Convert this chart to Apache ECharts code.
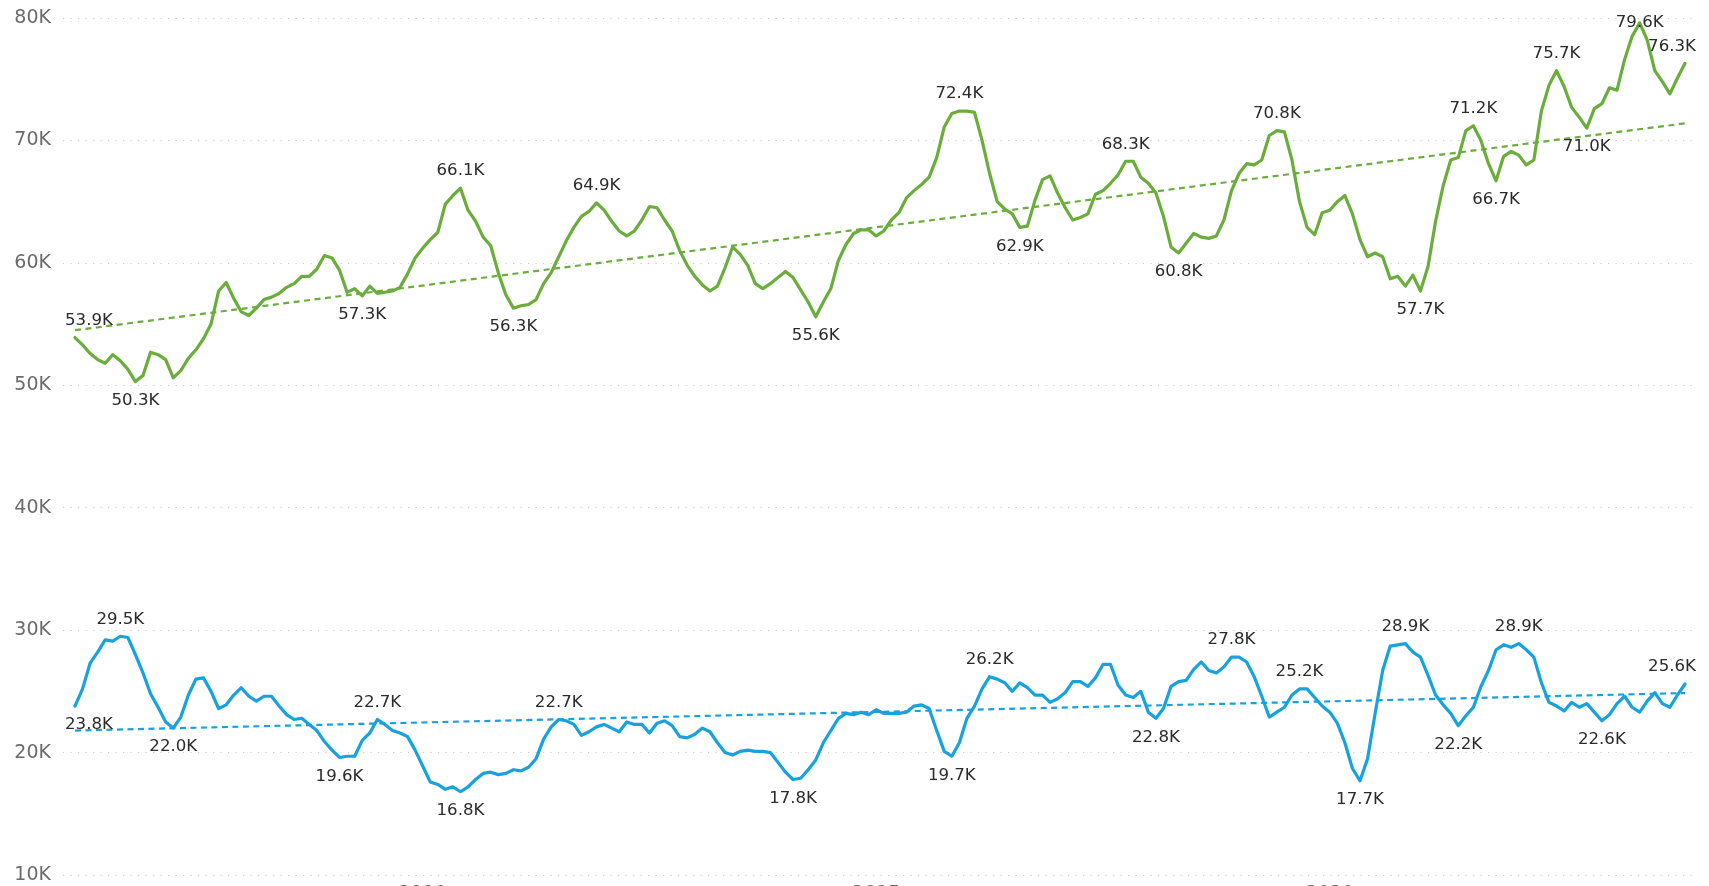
<!DOCTYPE html>
<html>
<head>
<meta charset="utf-8">
<script src="https://cdn.jsdelivr.net/npm/echarts@6/dist/echarts.min.js"></script>
<style>
  html, body { margin: 0; padding: 0; background: #ffffff; }
  #chart { width: 1709px; height: 886px; }
</style>
</head>
<body>
<div id="chart"></div>
<script>
// Monthly values from March 2006 to December 2023, in thousands.
const START_YEAR = 2006;
const START_MONTH = 3;

const greenValues = [
  53.9, 53.3, 52.6, 52.1, 51.8, 52.5, 52.0, 51.3, 50.3, 50.8,
  52.7, 52.5, 52.1, 50.6, 51.2, 52.2, 52.9, 53.8, 55.0, 57.7,
  58.4, 57.1, 56.0, 55.7, 56.3, 57.0, 57.2, 57.5, 58.0, 58.3,
  58.9, 58.9, 59.5, 60.6, 60.4, 59.4, 57.6, 57.9, 57.3, 58.1,
  57.5, 57.6, 57.7, 58.0, 59.1, 60.4, 61.2, 61.9, 62.5, 64.8,
  65.5, 66.1, 64.3, 63.4, 62.1, 61.4, 59.2, 57.4, 56.3, 56.5,
  56.6, 57.0, 58.3, 59.2, 60.5, 61.8, 62.9, 63.8, 64.2, 64.9,
  64.3, 63.4, 62.6, 62.2, 62.6, 63.5, 64.6, 64.5, 63.5, 62.6,
  61.0, 59.8, 58.9, 58.2, 57.7, 58.1, 59.6, 61.3, 60.7, 59.8,
  58.3, 57.9, 58.3, 58.8, 59.3, 58.8, 57.8, 56.8, 55.6, 56.8,
  57.9, 60.2, 61.5, 62.4, 62.7, 62.7, 62.2, 62.6, 63.5, 64.1,
  65.3, 65.9, 66.4, 67.0, 68.6, 71.1, 72.2, 72.4, 72.4, 72.3,
  70.0, 67.3, 65.0, 64.4, 64.0, 62.9, 63.0, 65.1, 66.8, 67.1,
  65.7, 64.5, 63.5, 63.7, 64.0, 65.6, 65.9, 66.5, 67.2, 68.3,
  68.3, 67.0, 66.5, 65.7, 63.8, 61.3, 60.8, 61.6, 62.4, 62.1,
  62.0, 62.2, 63.5, 65.9, 67.3, 68.1, 68.0, 68.4, 70.4, 70.8,
  70.7, 68.4, 65.0, 62.9, 62.3, 64.1, 64.3, 65.0, 65.5, 64.0,
  61.9, 60.5, 60.8, 60.5, 58.7, 58.9, 58.1, 59.0, 57.7, 59.7,
  63.4, 66.3, 68.4, 68.6, 70.8, 71.2, 70.0, 68.1, 66.7, 68.7,
  69.1, 68.8, 68.0, 68.4, 72.4, 74.5, 75.7, 74.4, 72.7, 71.9,
  71.0, 72.6, 73.0, 74.3, 74.1, 76.6, 78.5, 79.6, 78.2, 75.7,
  74.8, 73.8, 75.1, 76.3
];

const blueValues = [
  23.8, 25.2, 27.3, 28.2, 29.2, 29.1, 29.5, 29.4, 28.0, 26.5,
  24.8, 23.7, 22.5, 22.0, 22.9, 24.7, 26.0, 26.1, 25.0, 23.6,
  23.9, 24.7, 25.3, 24.6, 24.2, 24.6, 24.6, 23.8, 23.1, 22.7,
  22.8, 22.3, 21.8, 20.9, 20.2, 19.6, 19.7, 19.7, 21.0, 21.6,
  22.7, 22.3, 21.8, 21.6, 21.3, 20.2, 18.9, 17.6, 17.4, 17.0,
  17.2, 16.8, 17.2, 17.8, 18.3, 18.4, 18.2, 18.3, 18.6, 18.5,
  18.8, 19.5, 21.1, 22.1, 22.7, 22.6, 22.3, 21.4, 21.7, 22.1,
  22.3, 22.0, 21.7, 22.5, 22.3, 22.3, 21.6, 22.4, 22.6, 22.2,
  21.3, 21.2, 21.5, 22.0, 21.7, 20.8, 20.0, 19.8, 20.1, 20.2,
  20.1, 20.1, 20.0, 19.2, 18.4, 17.8, 17.9, 18.6, 19.4, 20.8,
  21.8, 22.8, 23.2, 23.1, 23.3, 23.1, 23.5, 23.2, 23.2, 23.2,
  23.3, 23.8, 23.9, 23.6, 21.8, 20.1, 19.7, 20.8, 22.8, 23.8,
  25.2, 26.2, 26.0, 25.7, 25.0, 25.7, 25.3, 24.7, 24.7, 24.1,
  24.4, 24.9, 25.8, 25.8, 25.4, 26.1, 27.2, 27.2, 25.5, 24.7,
  24.5, 25.0, 23.3, 22.8, 23.6, 25.4, 25.8, 25.9, 26.8, 27.4,
  26.7, 26.5, 27.0, 27.8, 27.8, 27.4, 26.2, 24.6, 22.9, 23.3,
  23.7, 24.7, 25.2, 25.2, 24.5, 23.8, 23.3, 22.4, 20.8, 18.7,
  17.7, 19.5, 23.2, 26.7, 28.7, 28.8, 28.9, 28.2, 27.8, 26.3,
  24.7, 23.9, 23.2, 22.2, 23.0, 23.7, 25.4, 26.7, 28.4, 28.8,
  28.6, 28.9, 28.4, 27.8, 25.7, 24.1, 23.8, 23.4, 24.1, 23.7,
  24.0, 23.3, 22.6, 23.1, 24.0, 24.6, 23.7, 23.3, 24.2, 24.9,
  24.0, 23.7, 24.7, 25.6
];

// Year marks on the time axis and the value axis range (thousands).
const yearTicks = [2010, 2015, 2020];
const yTicks = [10, 20, 30, 40, 50, 60, 70, 80];

// Points that carry a value label.
const greenLabelIdx = [0, 8, 38, 51, 58, 69, 98, 117, 125, 139, 146, 159, 178, 185, 188, 196, 200, 207, 213];
const blueLabelIdx  = [0, 6, 13, 35, 40, 51, 64, 95, 116, 121, 143, 153, 162, 170, 176, 183, 191, 202, 213];

// ---- presentation ----
const GREEN = '#6AAD3B';
const BLUE = '#16A2DD';
const FONT = 'DejaVu Sans';

const greenPlace = ['top', 'bottom', 'bottom', 'top', 'bottom', 'top', 'bottom', 'top', 'bottom', 'top',
                    'bottom', 'top', 'bottom', 'top', 'bottom', 'top', 'bottom', 'inside', 'top'];
const bluePlace  = ['bottom', 'top', 'bottom', 'bottom', 'top', 'bottom', 'top', 'bottom', 'bottom', 'top',
                    'bottom', 'top', 'top', 'bottom', 'top', 'bottom', 'top', 'bottom', 'top'];

const TOP_GAP = 8;
const BOTTOM_GAP = 10;

function monthX(i) {
  return START_YEAR + (START_MONTH - 1 + i) / 12;
}

function fmtK(v) {
  return v.toFixed(1) + 'K';
}

// Label placement; the first and last labels are nudged inward so they stay inside the plot.
function labelFor(pos, dx) {
  const base = {
    show: true,
    formatter: function (p) { return fmtK(p.value[1]); }
  };
  if (dx === 0) {
    base.position = pos;
    base.distance = pos === 'top' ? TOP_GAP : BOTTOM_GAP;
    return base;
  }
  base.align = 'center';
  if (pos === 'top') {
    base.position = [0.5 + dx, -TOP_GAP];
    base.verticalAlign = 'bottom';
  } else {
    base.position = [0.5 + dx, 1 + BOTTOM_GAP];
    base.verticalAlign = 'top';
  }
  return base;
}

function buildPoints(values, labelIdx, places) {
  const last = values.length - 1;
  return values.map(function (v, i) {
    const k = labelIdx.indexOf(i);
    if (k < 0) return { value: [monthX(i), v], symbol: 'none' };
    let dx = 0;
    if (i === 0) dx = 14;
    if (i === last) dx = -13;
    return { value: [monthX(i), v], label: labelFor(places[k], dx) };
  });
}

// Least-squares straight line through a monthly series.
function trendLine(values) {
  const n = values.length;
  let sx = 0, sy = 0, sxx = 0, sxy = 0;
  for (let i = 0; i < n; i++) {
    sx += i; sy += values[i]; sxx += i * i; sxy += i * values[i];
  }
  const b = (n * sxy - sx * sy) / (n * sxx - sx * sx);
  const a = (sy - b * sx) / n;
  return [[monthX(0), a], [monthX(n - 1), a + b * (n - 1)]];
}

const xMin = monthX(0) - 0.132;
const xMax = monthX(greenValues.length - 1) + 0.143;

const labelStyle = {
  color: '#2b2b2b',
  fontFamily: FONT,
  fontSize: 16.6
};

function lineSeries(name, values, labelIdx, places, color) {
  return {
    name: name,
    type: 'line',
    data: buildPoints(values, labelIdx, places),
    symbol: 'circle',
    symbolSize: 1,
    showSymbol: true,
    showAllSymbol: true,
    smooth: false,
    lineStyle: { color: color, width: 3.2, join: 'round', cap: 'round' },
    itemStyle: { color: color, borderWidth: 0 },
    label: labelStyle,
    labelLayout: { hideOverlap: false },
    emphasis: { disabled: true },
    z: 3
  };
}

const chart = echarts.init(document.getElementById('chart'), null, { renderer: 'canvas' });

chart.setOption({
  animation: false,
  backgroundColor: '#ffffff',
  grid: { left: 63, right: 11, top: 18, bottom: 11, containLabel: false, outerBoundsMode: 'none' },
  xAxis: {
    type: 'value',
    min: xMin,
    max: xMax,
    axisLine: { show: false },
    axisTick: { show: false },
    splitLine: { show: false },
    axisLabel: {
      customValues: yearTicks,
      formatter: function (v) { return String(Math.round(v)); },
      color: '#666666',
      fontFamily: FONT,
      fontSize: 19,
      margin: 10
    }
  },
  yAxis: {
    type: 'value',
    min: yTicks[0],
    max: yTicks[yTicks.length - 1],
    interval: yTicks[1] - yTicks[0],
    axisLine: { show: false },
    axisTick: { show: false },
    axisLabel: {
      formatter: '{value}K',
      color: '#6b6b6b',
      fontFamily: FONT,
      fontSize: 19,
      margin: 12
    },
    splitLine: {
      show: true,
      lineStyle: { color: '#c9c9c9', width: 1.2, type: [1.2, 6.3] }
    }
  },
  series: [
    {
      name: 'green-trend',
      type: 'line',
      data: trendLine(greenValues),
      symbol: 'none',
      silent: true,
      lineStyle: { color: GREEN, width: 2.2, type: [6, 4.5] },
      z: 1
    },
    {
      name: 'blue-trend',
      type: 'line',
      data: trendLine(blueValues),
      symbol: 'none',
      silent: true,
      lineStyle: { color: BLUE, width: 2.2, type: [6, 4.5] },
      z: 1
    },
    lineSeries('green', greenValues, greenLabelIdx, greenPlace, GREEN),
    lineSeries('blue', blueValues, blueLabelIdx, bluePlace, BLUE)
  ]
});
</script>
</body>
</html>
